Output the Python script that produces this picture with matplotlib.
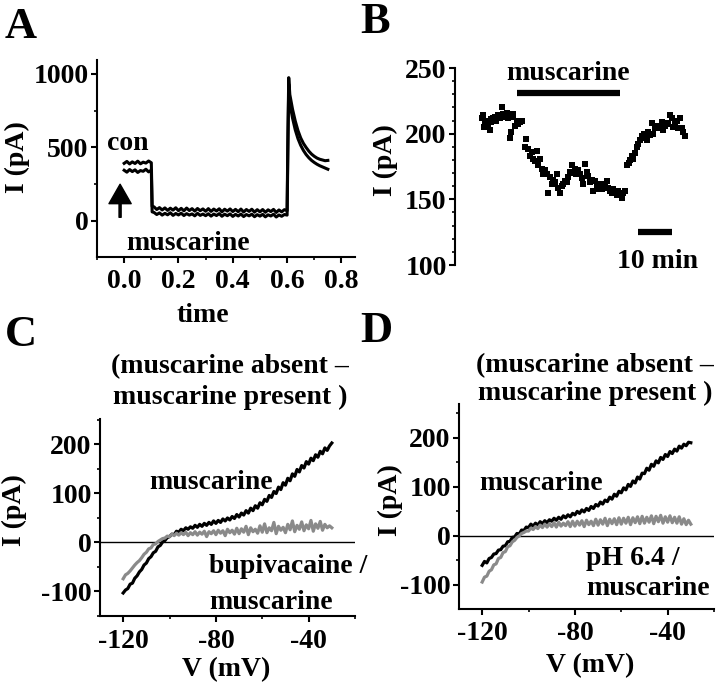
import numpy as np
import matplotlib.pyplot as plt
from matplotlib.ticker import MultipleLocator, FormatStrFormatter

plt.rcParams['font.family'] = 'Liberation Serif'
plt.rcParams['font.weight'] = 'bold'
plt.rcParams['font.size'] = 20
plt.rcParams['axes.unicode_minus'] = False

# ---- panel A: current trace (two sweeps) ----
t_a = ([round(i * 0.01, 3) for i in range(11)] + [0.103]
       + [round(0.11 + i * 0.01, 3) for i in range(50)] + [0.603, 0.606]
       + [round(0.61 + i * 0.01, 3) for i in range(15)])
sweep1 = [392, 405, 388, 402, 391, 407, 389, 400, 394, 408, 396,
          100,
          96, 78, 91, 75, 89, 72, 87, 74, 90, 70,
          86, 69, 88, 71, 84, 67, 85, 70, 82, 66,
          84, 65, 81, 68, 83, 62, 80, 67, 82, 64,
          79, 63, 81, 61, 78, 65, 80, 60, 77, 62,
          78, 59, 76, 64, 79, 58, 75, 62, 77, 70,
          600, 975,
          860, 760, 680, 615, 565, 528, 500, 475, 455, 440, 428, 420, 415, 410, 412]
sweep2 = [345, 332, 350, 336, 348, 330, 343, 338, 352, 334, 346,
          62,
          58, 44, 55, 40, 52, 42, 56, 38, 51, 41,
          53, 37, 50, 40, 48, 35, 52, 38, 47, 36,
          49, 33, 47, 37, 50, 32, 46, 36, 48, 31,
          45, 34, 47, 30, 44, 35, 46, 29, 43, 33,
          45, 28, 42, 34, 46, 27, 41, 32, 44, 40,
          500, 930,
          800, 700, 620, 560, 515, 480, 452, 430, 412, 398, 386, 376, 368, 360, 352]

# ---- panel B: time course (min, pA) ----
t_b = [0.3, 0.7, 0.9, 1.2, 1.6, 2.1, 2.6, 2.9, 3.1, 3.6, 4.1, 4.5, 5.1, 5.6, 6.1, 6.6,
       7.1, 7.6, 8.1, 8.5, 9.0, 9.3, 9.5, 10.0, 10.5, 11.0, 11.5, 12.0, 12.9, 13.4,
       13.9, 14.4, 14.9, 15.4, 15.9, 16.4, 16.9, 17.4, 17.9, 18.3, 18.8, 19.3, 19.8,
       20.3, 20.8, 21.3, 21.8, 22.3, 22.8, 23.2, 23.7, 24.2, 24.7, 25.2, 25.7, 26.2,
       26.7, 27.2, 27.7, 28.1, 28.6, 29.1, 29.6, 30.1, 30.6, 31.1, 31.6, 32.1, 32.6,
       33.0, 33.5, 34.0, 34.5, 35.0, 35.5, 36.0, 36.5, 37.0, 37.5, 38.0, 38.4, 38.9,
       39.4, 39.9, 40.4, 40.9, 41.4, 41.9, 42.4, 42.9, 43.4, 43.9, 44.3, 44.8, 45.3,
       45.8, 46.3, 46.8, 47.3, 47.8, 48.2, 48.7, 49.2, 49.7, 50.2, 50.7, 51.2, 51.7,
       52.2, 52.7, 53.1, 53.6, 54.1, 54.6, 55.1, 55.6, 56.1, 56.6, 57.1, 57.5, 58.0,
       58.5, 59.0, 59.5, 60.0]
i_b = [212, 214, 205, 210, 208, 206, 203, 209, 211, 212, 213, 210, 214, 212, 220, 215,
       213, 216, 212, 197, 201, 215, 213, 206, 210, 207, 209, 210, 190, 196,
       188, 183, 186, 181, 179, 187, 176, 181, 173, 169, 172, 169, 155,
       167, 162, 165, 163, 169, 159, 155, 160, 162, 164, 163, 167, 171,
       176, 170, 173, 169, 172, 169, 166, 162, 177, 171, 168, 163, 165,
       156, 164, 160, 158, 162, 158, 160, 162, 164, 159, 156, 155, 158,
       156, 153, 156, 154, 151, 155, 156, 176, 178, 180, 183, 181, 185,
       190, 192, 195, 198, 200, 197, 195, 201, 199, 208, 200, 204, 204,
       206, 205, 209, 203, 206, 208, 207, 214, 212, 205, 208, 210, 204,
       212, 204, 201, 198]
musc_bar_b = [10.6, 40.9]
musc_level_b = 231
scale_bar_b = [46.2, 56.2]
scale_level_b = 125

# ---- panels C, D: I-V curves (V from -120 to -30 mV, 1 mV steps) ----
v_iv = np.arange(-120, -29, 1)
c_musc = [-103, -97, -94, -85, -83, -73, -68, -60, -55, -46,
          -42, -33, -29, -21, -18, -9, -6, 1, 4, 10,
          12, 17, 16, 23, 21, 27, 24, 30, 27, 32,
          29, 35, 31, 37, 33, 39, 35, 41, 37, 44,
          39, 45, 41, 48, 44, 50, 46, 53, 49, 57,
          52, 60, 56, 65, 60, 70, 65, 75, 70, 81,
          77, 88, 84, 96, 92, 104, 100, 113, 108, 122,
          117, 131, 126, 140, 135, 149, 144, 157, 152, 165,
          160, 172, 167, 179, 174, 186, 181, 193, 188, 197,
          203]
c_bupi = [-74, -66, -63, -58, -52, -46, -41, -37, -31, -24,
          -20, -13, -11, -4, -3, 2, 5, 8, 9, 13,
          12, 17, 14, 19, 15, 20, 16, 21, 14, 20,
          16, 22, 15, 21, 17, 23, 12, 22, 18, 24,
          16, 25, 19, 24, 14, 27, 20, 25, 17, 29,
          18, 28, 21, 33, 16, 30, 22, 27, 19, 34,
          21, 38, 20, 30, 24, 41, 18, 33, 25, 31,
          20, 37, 26, 44, 22, 35, 27, 42, 24, 36,
          28, 45, 23, 38, 29, 43, 25, 37, 30, 34,
          30]
d_musc = [-60, -52, -55, -46, -44, -37, -36, -29, -28, -21,
          -20, -12, -11, -3, -2, 5, 4, 12, 11, 18,
          17, 24, 20, 26, 22, 29, 25, 31, 27, 33,
          30, 36, 32, 38, 34, 41, 37, 43, 39, 46,
          43, 50, 46, 53, 49, 56, 52, 60, 56, 64,
          61, 69, 65, 73, 70, 79, 75, 85, 81, 91,
          88, 98, 94, 105, 101, 112, 108, 120, 116, 128,
          127, 138, 134, 146, 142, 153, 149, 160, 156, 166,
          162, 172, 168, 177, 173, 183, 179, 187, 184, 191,
          190]
d_ph = [-94, -84, -82, -72, -69, -59, -57, -46, -44, -34,
        -32, -22, -20, -12, -9, -3, 0, 5, 7, 10,
        10, 16, 13, 19, 15, 22, 17, 24, 18, 25,
        19, 27, 18, 28, 20, 26, 21, 29, 19, 30,
        20, 30, 22, 31, 19, 32, 23, 30, 21, 34,
        22, 33, 24, 36, 21, 34, 25, 35, 23, 37,
        24, 36, 26, 38, 23, 37, 27, 39, 25, 40,
        26, 38, 28, 41, 25, 40, 29, 42, 26, 39,
        28, 41, 27, 38, 26, 39, 24, 35, 23, 32,
        24]

GRAY = '#8a8a8a'
W, H = 720, 687
fig = plt.figure(figsize=(W / 100, H / 100), dpi=100)


def box(l, t, r, b):
    return [l / W, 1 - b / H, (r - l) / W, (b - t) / H]


def ftext(x, y, s, **kw):
    fig.text(x / W, 1 - y / H, s, **kw)


def style(ax):
    for s in ['top', 'right']:
        ax.spines[s].set_visible(False)
    for s in ['left', 'bottom']:
        ax.spines[s].set_linewidth(1.5)
    ax.tick_params(which='major', direction='out', length=4, width=1.5, labelsize=20)
    ax.tick_params(which='minor', direction='out', length=2.5, width=1.2)
    ax.tick_params(axis='x', pad=5)
    ax.tick_params(axis='y', pad=2)


# panel A
axA = fig.add_axes(box(97, 60, 355, 257))
style(axA)
axA.plot(t_a, sweep1, color='black', lw=2.2)
axA.plot(t_a, sweep2, color='black', lw=2.2)
axA.set_xlim(-0.1, 0.85)
axA.set_ylim(-245, 1095)
axA.xaxis.set_major_locator(MultipleLocator(0.2))
axA.xaxis.set_minor_locator(MultipleLocator(0.1))
axA.xaxis.set_major_formatter(FormatStrFormatter('%.1f'))
axA.yaxis.set_major_locator(MultipleLocator(500))
axA.yaxis.set_minor_locator(MultipleLocator(250))
axA.text(-0.063, 483, 'con', ha='left', va='baseline')
axA.text(0.007, -197, 'muscarine', ha='left', va='baseline')
axA.annotate('', xy=(-0.015, 250), xytext=(-0.015, 25),
             arrowprops=dict(facecolor='black', edgecolor='black', width=1.5,
                             headwidth=16, headlength=14, shrink=0))

# panel B
axB = fig.add_axes(box(455, 68, 700, 265))
style(axB)
axB.spines['bottom'].set_visible(False)
axB.tick_params(axis='x', which='both', bottom=False, labelbottom=False)
axB.plot(t_b, i_b, 's', color='black', ms=4.3, mew=0)
axB.plot(musc_bar_b, [musc_level_b] * 2, color='black', lw=4.5, solid_capstyle='butt')
axB.plot(scale_bar_b, [scale_level_b] * 2, color='black', lw=4.5, solid_capstyle='butt',
         clip_on=False)
axB.set_xlim(-7.6, 64.4)
axB.set_ylim(100, 250)
axB.yaxis.set_major_locator(MultipleLocator(50))
axB.yaxis.set_minor_locator(MultipleLocator(10))
axB.text(25.6, 240.8, 'muscarine', ha='center', va='baseline')
axB.text(51.8, 97.7, '10 min', ha='center', va='baseline', clip_on=False)

# panels C and D
for ax, musc, other, lim, lab1, lab2, pos in [
        (box(100, 419, 355, 616), c_musc, c_bupi, (-150, 252),
         (-108.8, 110), ('bupivacaine /', 'muscarine'), (-83, -63, -135)),
        (box(459, 404, 714, 609), d_musc, d_ph, (-149, 269),
         (-121.4, 94), ('pH 6.4 /', 'muscarine'), (-75, -59, -120))]:
    a = fig.add_axes(ax)
    style(a)
    a.axhline(0, color='black', lw=1.0)
    a.plot(v_iv, musc, color='black', lw=2.3)
    a.plot(v_iv, other, color=GRAY, lw=2.3)
    a.set_xlim(-130, -20)
    a.set_ylim(*lim)
    a.xaxis.set_major_locator(MultipleLocator(40))
    a.xaxis.set_minor_locator(MultipleLocator(20))
    a.yaxis.set_major_locator(MultipleLocator(100))
    a.yaxis.set_minor_locator(MultipleLocator(50))
    a.set_xticks([-120, -80, -40])
    a.text(lab1[0], lab1[1], 'muscarine', ha='left', va='baseline')
    a.text(pos[0], pos[1], lab2[0], ha='left', va='baseline', clip_on=False)
    a.text(pos[0], pos[2], lab2[1], ha='left', va='baseline', clip_on=False)

# axis labels
ftext(17, 157, 'I (pA)', rotation=90, ha='center', va='center')
ftext(203, 322, 'time', ha='center', va='baseline')
ftext(385, 160, 'I (pA)', rotation=90, ha='center', va='center')
ftext(14, 510, 'I (pA)', rotation=90, ha='center', va='center')
ftext(226, 676, 'V (mV)', ha='center', va='baseline')
ftext(390, 500, 'I (pA)', rotation=90, ha='center', va='center')
ftext(590, 672, 'V (mV)', ha='center', va='baseline')

# titles of C and D
ftext(230, 373, '(muscarine absent \u2013', ha='center', va='baseline')
ftext(230, 404, 'muscarine present )', ha='center', va='baseline')
ftext(595, 372, '(muscarine absent \u2013', ha='center', va='baseline')
ftext(595, 400, 'muscarine present )', ha='center', va='baseline')

# panel letters
ftext(5, 38, 'A', fontsize=32, va='baseline')
ftext(360, 33, 'B', fontsize=32, va='baseline')
ftext(5, 346, 'C', fontsize=32, va='baseline')
ftext(360, 342, 'D', fontsize=32, va='baseline')

fig.savefig('out.png', dpi=100)
